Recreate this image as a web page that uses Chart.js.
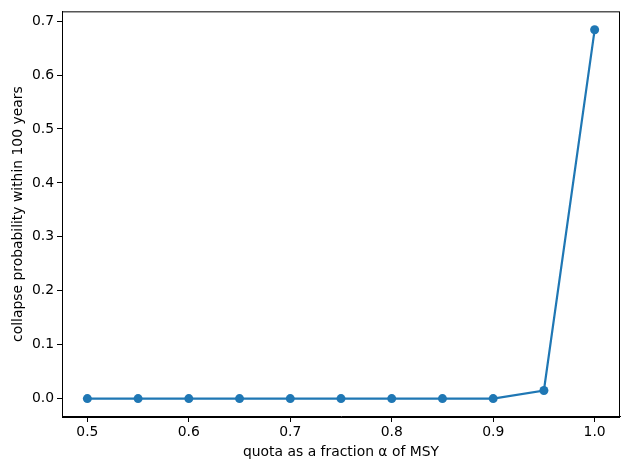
<!DOCTYPE html>
<html>
<head>
<meta charset="utf-8">
<script src="https://cdn.jsdelivr.net/npm/chart.js@4"></script>
<style>
    html, body { margin: 0; padding: 0; background: white; }
    #wrap { width: 630px; height: 470px; }
</style>
</head>
<body>
<div id="wrap"><canvas id="myGraph" width="630" height="470"></canvas></div>
<script>
"use strict";

// quota fraction alpha of MSY
const quotas = [0.5, 0.55, 0.6, 0.65, 0.7, 0.75, 0.8, 0.85, 0.9, 0.95, 1.0];
// collapse probability within 100 years
const collapseProb = [0, 0, 0, 0, 0, 0, 0, 0, 0, 0.015, 0.684];

const xTicks = [0.5, 0.6, 0.7, 0.8, 0.9, 1.0];
const yTicks = [0.0, 0.1, 0.2, 0.3, 0.4, 0.5, 0.6, 0.7];

const points = [];
for (let i = 0; i < quotas.length; i++) {
    points.push({ x: quotas[i], y: collapseProb[i] });
}

const fontFamily = "'DejaVu Sans', sans-serif";
const fontSize = 13.9;
const blue = "#1f77b4";

// draw the box round the plot area, like matplotlib does
const frameBox = {
    id: "frameBox",
    afterDraw(chart) {
        const a = chart.chartArea;
        const ctx = chart.ctx;
        ctx.save();
        ctx.strokeStyle = "black";
        ctx.lineWidth = 1;
        ctx.strokeRect(a.left + 0.5, a.top + 0.5, a.right - a.left - 1, a.bottom - a.top);
        ctx.restore();
    },
};

const config = {
    type: "line",
    data: {
        datasets: [
            {
                data: points,
                borderColor: blue,
                backgroundColor: blue,
                borderWidth: 2.2,
                pointRadius: 4.5,
                pointHoverRadius: 4.5,
                pointBorderWidth: 0,
                tension: 0,
            },
        ],
    },
    options: {
        responsive: false,
        animation: false,
        layout: { padding: { top: 10, right: 10, left: 0, bottom: 0 } },
        plugins: {
            legend: { display: false },
            tooltip: { enabled: false },
        },
        scales: {
            x: {
                type: "linear",
                min: 0.475,
                max: 1.025,
                afterBuildTicks: (scale) => {
                    scale.ticks = xTicks.map((v) => ({ value: v }));
                },
                afterFit: (scale) => {
                    scale.height = 53;
                },
                ticks: {
                    color: "black",
                    font: { family: fontFamily, size: fontSize },
                    padding: 2,
                    maxRotation: 0,
                    callback: (v) => v.toFixed(1),
                },
                grid: {
                    drawOnChartArea: false,
                    drawTicks: true,
                    tickLength: 5,
                    color: "black",
                },
                border: { display: true, color: "black" },
                title: {
                    display: true,
                    text: "quota as a fraction α of MSY",
                    color: "black",
                    font: { family: fontFamily, size: fontSize },
                    padding: { top: 4, bottom: 9 },
                },
            },
            y: {
                min: -0.0342,
                max: 0.7182,
                afterBuildTicks: (scale) => {
                    scale.ticks = yTicks.map((v) => ({ value: v }));
                },
                afterFit: (scale) => {
                    scale.width = 62;
                },
                ticks: {
                    color: "black",
                    font: { family: fontFamily, size: fontSize },
                    padding: 3,
                    callback: (v) => v.toFixed(1),
                },
                grid: {
                    drawOnChartArea: false,
                    drawTicks: true,
                    tickLength: 5,
                    color: "black",
                },
                border: { display: true, color: "black" },
                title: {
                    display: true,
                    text: "collapse probability within 100 years",
                    color: "black",
                    font: { family: fontFamily, size: fontSize },
                    padding: { top: 10, bottom: 4 },
                },
            },
        },
    },
    plugins: [frameBox],
};

new Chart(document.getElementById("myGraph"), config);
</script>
</body>
</html>
